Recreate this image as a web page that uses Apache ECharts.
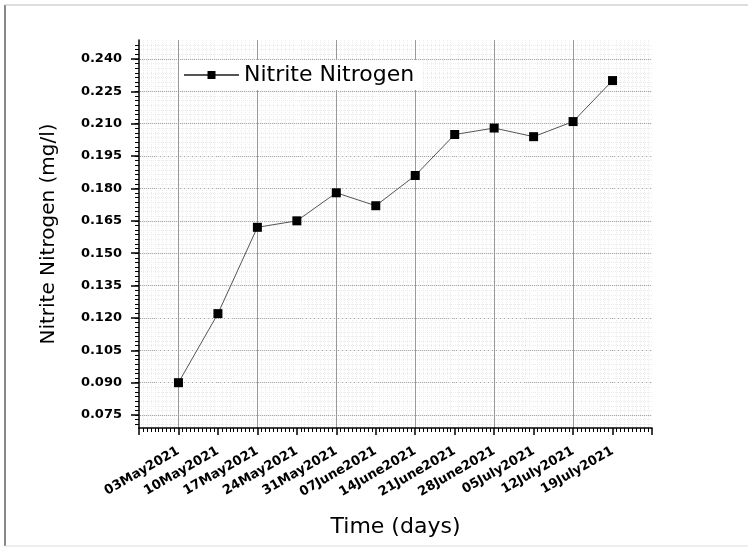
<!DOCTYPE html>
<html><head><meta charset="utf-8">
<script src="https://cdn.jsdelivr.net/npm/echarts@6/dist/echarts.min.js"></script>
<style>html,body{margin:0;padding:0;background:#fff}#c{width:748px;height:548px}</style>
</head><body><div id="c"></div>
<script>
const categories = ['03May2021','10May2021','17May2021','24May2021','31May2021','07June2021','14June2021','21June2021','28June2021','05July2021','12July2021','19July2021'];
const nitrite = [0.090, 0.122, 0.162, 0.165, 0.178, 0.172, 0.186, 0.205, 0.208, 0.204, 0.211, 0.230];
const yTickLabels = [0.075, 0.090, 0.105, 0.120, 0.135, 0.150, 0.165, 0.180, 0.195, 0.210, 0.225, 0.240];
const seriesName = 'Nitrite Nitrogen';
const yName = 'Nitrite Nitrogen (mg/l)';
const xName = 'Time (days)';

const yMin = 0.069, yMax = 0.2488;
const xMin = 0, xMax = categories.length + 1;
// minor tick values on y (7 subdivisions per labelled step)
const yStep = (yTickLabels[1] - yTickLabels[0]) / 7;
const yMinor = [];
for (let k = -2; k <= 80; k++) {
  const v = +(yTickLabels[0] + k * yStep).toFixed(6);
  if (v >= yMin && v <= yMax) yMinor.push(v);
}
// major vertical grid lines at every second date
const xMajorGrid = categories.map((c, i) => i + 1).filter((v, i) => i % 2 === 0);

const chart = echarts.init(document.getElementById('c'), null, {renderer: 'canvas'});
const FONT = 'DejaVu Sans';
chart.setOption({
  animation: false,
  backgroundColor: '#fff',
  grid: {left: 139, right: 96, top: 40, bottom: 120, containLabel: false},
  legend: {
    left: 179, top: 60, backgroundColor: '#fff', padding: [4, 8, 4, 4],
    itemWidth: 55, itemHeight: 10, itemGap: 5,
    textStyle: {fontFamily: FONT, fontSize: 22, color: '#000'},
    data: [seriesName]
  },
  xAxis: [{
    type: 'value', min: xMin, max: xMax, interval: 1, position: 'bottom',
    axisLine: {show: true, onZero: false, lineStyle: {color: '#000', width: 1.5}},
    axisTick: {show: true, length: 7, lineStyle: {color: '#000', width: 1.5}},
    minorTick: {show: true, splitNumber: 10, length: 4, lineStyle: {color: '#000', width: 1}},
    minorSplitLine: {show: true, lineStyle: {color: '#ececec', width: 1, type: 'dotted'}},
    splitLine: {show: false},
    axisLabel: {rotate: 30, margin: 22, color: '#000', fontFamily: FONT, fontWeight: 'bold', fontSize: 13,
      formatter: v => categories[v - 1] || ''},
    name: xName, nameLocation: 'middle', nameGap: 88,
    nameTextStyle: {fontFamily: FONT, fontSize: 22, color: '#000'}
  }, {
    type: 'value', min: xMin, max: xMax, position: 'top',
    axisLine: {show: false},
    axisTick: {show: false, customValues: xMajorGrid},
    axisLabel: {show: false, customValues: xMajorGrid},
    splitLine: {show: true, lineStyle: {color: '#999', width: 1}}
  }],
  yAxis: [{
    type: 'value', min: yMin, max: yMax, position: 'left',
    axisLine: {show: true, onZero: false, lineStyle: {color: '#000', width: 1.5}},
    axisTick: {show: true, length: 8, customValues: yTickLabels, lineStyle: {color: '#000', width: 1.5}},
    axisLabel: {customValues: yTickLabels, margin: 17, color: '#000', fontFamily: FONT, fontWeight: 'bold', fontSize: 13,
      formatter: v => v.toFixed(3)},
    splitLine: {show: true, lineStyle: {color: '#aaa', width: 1}},
    name: yName, nameLocation: 'middle', nameGap: 80,
    nameTextStyle: {fontFamily: FONT, fontSize: 20, color: '#000'}
  }, {
    type: 'value', min: yMin, max: yMax, position: 'left',
    axisLine: {show: false},
    axisTick: {show: true, length: 4, customValues: yMinor, lineStyle: {color: '#000', width: 1}},
    axisLabel: {show: false, customValues: yMinor},
    splitLine: {show: true, lineStyle: {color: '#ececec', width: 1, type: 'dotted'}}
  }],
  series: [{
    name: seriesName, type: 'line', xAxisIndex: 0, yAxisIndex: 0, z: 10,
    data: categories.map((c, i) => [i + 1, nitrite[i]]),
    symbol: 'rect', symbolSize: 9,
    itemStyle: {color: '#000'},
    lineStyle: {color: '#555', width: 1}
  }],
  graphic: [
    {type: 'line', shape: {x1: 5, y1: 5, x2: 5, y2: 546}, style: {stroke: '#888', lineWidth: 2}},
    {type: 'line', shape: {x1: 5, y1: 5, x2: 748, y2: 5}, style: {stroke: '#bbb', lineWidth: 1}},
    {type: 'line', shape: {x1: 5, y1: 546, x2: 748, y2: 546}, style: {stroke: '#ddd', lineWidth: 1}}
  ]
});
</script></body></html>
